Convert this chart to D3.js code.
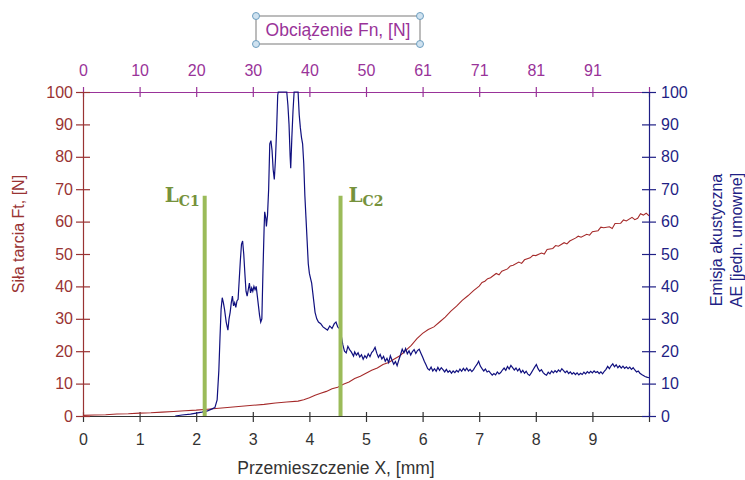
<!DOCTYPE html>
<html>
<head>
<meta charset="utf-8">
<script src="https://cdn.jsdelivr.net/npm/d3@7"></script>
<style>
body { margin: 0; background: #fff; }
svg { font-family: "Liberation Sans", Arial, sans-serif; }
</style>
</head>
<body>
<div id="chart"></div>
<script>
// tick labels
var xTicks = [0, 1, 2, 3, 4, 5, 6, 7, 8, 9];
var fnLabels = ["0", "10", "20", "30", "40", "50", "61", "71", "81", "91"];
var yTicks = [0, 10, 20, 30, 40, 50, 60, 70, 80, 90, 100];

// critical loads, X [mm]
var lcNames = ["C1", "C2"];
var lcX = [2.15, 4.55];

// friction force Ft [N] vs displacement X [mm]
var ftData = [
[0, 0.2], [0.2, 0.3], [0.4, 0.4], [0.6, 0.6], [0.8, 0.7], [1.0, 0.9], [1.2, 1.0], [1.4, 1.2],
[1.6, 1.4], [1.8, 1.6], [2.0, 1.8], [2.2, 2.1], [2.4, 2.4], [2.6, 2.7], [2.8, 3.0], [3.0, 3.3],
[3.2, 3.6], [3.4, 4.0], [3.6, 4.3], [3.8, 4.6], [3.9, 5.0], [4.0, 5.6], [4.1, 6.4], [4.2, 7.0],
[4.3, 7.6], [4.4, 8.4], [4.5, 8.9], [4.6, 9.8], [4.7, 10.5], [4.8, 11.6], [4.9, 12.3], [5.0, 13.2],
[5.1, 14.1], [5.2, 14.8], [5.3, 15.9], [5.4, 16.5], [5.5, 17.6], [5.6, 18.6], [5.7, 20.2], [5.8, 21.8],
[5.9, 23.9], [6.0, 25.5], [6.1, 26.7], [6.2, 27.5], [6.3, 29.0], [6.4, 30.5], [6.5, 32.4], [6.6, 33.9],
[6.7, 35.7], [6.8, 37.1], [6.9, 38.7], [7.0, 40.1], [7.05, 41.2], [7.1, 41.6], [7.15, 42.4], [7.2, 42.7],
[7.3, 44.0], [7.35, 43.6], [7.4, 44.7], [7.5, 45.4], [7.55, 46.3], [7.6, 46.5], [7.7, 47.5], [7.75, 47.1],
[7.8, 48.2], [7.9, 48.8], [7.95, 49.6], [8.0, 49.5], [8.1, 50.3], [8.15, 50.0], [8.2, 51.4], [8.3, 51.7],
[8.35, 52.6], [8.4, 52.4], [8.5, 53.5], [8.55, 53.1], [8.6, 54.0], [8.7, 54.9], [8.75, 55.5], [8.8, 55.2],
[8.9, 56.1], [8.95, 55.8], [9.0, 56.9], [9.1, 57.2], [9.15, 58.3], [9.2, 58.1], [9.3, 58.4], [9.35, 57.9],
[9.4, 59.4], [9.5, 59.5], [9.55, 60.5], [9.6, 60.2], [9.7, 61.3], [9.75, 60.6], [9.8, 61.0], [9.85, 62.4],
[9.9, 62.0], [9.95, 62.6], [10.0, 61.8]
];

// acoustic emission AE [arb. units] vs displacement X [mm]
var aeData = [
[1.63, 0], [1.75, 0.3], [1.9, 0.6], [2.0, 0.9], [2.1, 1.2], [2.2, 1.6], [2.28, 2.2], [2.33, 2.6],
[2.37, 5], [2.40, 14], [2.42, 24], [2.44, 33], [2.46, 36.5], [2.48, 35], [2.5, 33], [2.53, 29],
[2.56, 26.5], [2.58, 30], [2.6, 32], [2.62, 35], [2.64, 37], [2.66, 34], [2.68, 35], [2.7, 33.5],
[2.72, 35.5], [2.74, 36], [2.76, 42], [2.78, 48], [2.80, 53], [2.82, 54], [2.84, 50], [2.86, 44],
[2.88, 38.5], [2.9, 37], [2.92, 39], [2.94, 41], [2.96, 38], [2.98, 39.5], [3.0, 38.5], [3.02, 40],
[3.04, 39], [3.06, 40], [3.08, 37], [3.1, 34], [3.12, 31], [3.14, 29], [3.16, 30], [3.18, 45],
[3.2, 58], [3.21, 63], [3.23, 61], [3.24, 58.5], [3.26, 62], [3.28, 70], [3.3, 84], [3.32, 85],
[3.34, 82], [3.36, 76], [3.38, 73], [3.4, 79], [3.42, 88], [3.44, 99], [3.45, 100], [3.6, 100],
[3.62, 96], [3.64, 90], [3.66, 80], [3.67, 76.5], [3.69, 86], [3.71, 94], [3.73, 100], [3.8, 100],
[3.82, 93], [3.84, 89], [3.86, 86], [3.88, 84], [3.9, 78], [3.92, 68], [3.94, 61], [3.96, 54],
[3.98, 47], [4.0, 44], [4.02, 42.5], [4.04, 41], [4.06, 38], [4.08, 35], [4.1, 32], [4.13, 30],
[4.16, 29], [4.2, 28.5], [4.24, 27.5], [4.28, 27], [4.32, 26.5], [4.36, 27.8], [4.4, 27], [4.44, 28.5],
[4.47, 29], [4.5, 27.5], [4.53, 27], [4.56, 25], [4.59, 22], [4.62, 20], [4.65, 19.5], [4.68, 21.5],
[4.71, 20.5], [4.74, 19.8], [4.78, 18.5], [4.8, 19.8], [4.83, 18.8], [4.86, 19.5], [4.89, 18.2], [4.92, 18.9],
[4.95, 17.5], [4.98, 18.6], [5.01, 17.9], [5.04, 19.2], [5.07, 18.3], [5.1, 19.6], [5.13, 20.2], [5.16, 21.2],
[5.19, 19.4], [5.22, 18.1], [5.25, 19.0], [5.28, 17.6], [5.31, 18.4], [5.34, 16.9], [5.37, 17.8], [5.40, 16.5],
[5.43, 18.6], [5.46, 17.2], [5.49, 16.0], [5.52, 16.8], [5.55, 15.5], [5.58, 17.3], [5.61, 18.9], [5.64, 20.6],
[5.67, 19.5], [5.7, 20.8], [5.73, 19.2], [5.76, 20.1], [5.79, 18.8], [5.82, 19.9], [5.85, 20.5], [5.88, 19.3],
[5.91, 20.2], [5.94, 20.6], [5.97, 19.4], [6.0, 18.2], [6.03, 16.9], [6.06, 15.8], [6.09, 14.6], [6.12, 14.2],
[6.15, 15.1], [6.18, 13.9], [6.21, 14.6], [6.24, 13.8], [6.27, 15.0], [6.3, 14.1], [6.33, 14.9], [6.36, 14.3],
[6.39, 13.6], [6.42, 14.4], [6.45, 13.5], [6.48, 14.0], [6.51, 13.2], [6.54, 13.9], [6.57, 13.4], [6.6, 14.1],
[6.63, 13.6], [6.66, 14.5], [6.69, 13.8], [6.72, 14.7], [6.75, 14.0], [6.78, 14.8], [6.81, 13.9], [6.84, 14.4],
[6.87, 13.7], [6.9, 14.3], [6.93, 15.2], [6.96, 15.9], [6.99, 16.9], [7.02, 15.4], [7.05, 14.6], [7.08, 13.9],
[7.11, 14.5], [7.14, 13.6], [7.17, 13.9], [7.2, 13.2], [7.23, 12.6], [7.26, 13.1], [7.29, 12.7], [7.32, 13.6],
[7.35, 13.0], [7.38, 13.4], [7.41, 14.2], [7.44, 14.8], [7.47, 14.1], [7.5, 15.3], [7.53, 14.5], [7.56, 15.6],
[7.59, 14.9], [7.62, 14.2], [7.65, 14.8], [7.68, 13.9], [7.71, 14.6], [7.74, 13.4], [7.77, 14.1], [7.8, 13.2],
[7.83, 13.8], [7.86, 12.9], [7.89, 12.5], [7.92, 13.3], [7.95, 14.2], [7.98, 15.1], [8.01, 15.9], [8.04, 14.6],
[8.07, 13.8], [8.1, 14.3], [8.13, 13.4], [8.16, 12.9], [8.19, 12.6], [8.22, 13.5], [8.25, 13.0], [8.28, 13.9],
[8.31, 13.3], [8.34, 14.0], [8.37, 13.5], [8.4, 14.2], [8.43, 13.7], [8.46, 14.6], [8.49, 14.0], [8.52, 13.4],
[8.55, 13.9], [8.58, 13.1], [8.61, 13.6], [8.64, 12.9], [8.67, 13.4], [8.7, 12.8], [8.73, 13.3], [8.76, 12.7],
[8.79, 13.2], [8.82, 12.8], [8.85, 13.5], [8.88, 13.0], [8.91, 13.7], [8.94, 13.2], [8.97, 13.8], [9.0, 13.3],
[9.03, 13.9], [9.06, 13.4], [9.09, 13.7], [9.12, 13.1], [9.15, 13.6], [9.18, 13.0], [9.21, 13.8], [9.24, 14.4],
[9.27, 15.3], [9.3, 14.6], [9.33, 15.5], [9.36, 16.1], [9.39, 15.2], [9.42, 15.8], [9.45, 14.9], [9.48, 15.5],
[9.51, 14.8], [9.54, 15.4], [9.57, 14.7], [9.6, 15.2], [9.63, 14.6], [9.66, 15.1], [9.69, 14.4], [9.72, 14.9],
[9.75, 14.2], [9.78, 13.6], [9.81, 13.9], [9.84, 13.2], [9.87, 12.8], [9.9, 12.5], [9.93, 12.2], [9.96, 12.0],
[10.0, 11.8]
];

var w = 745, h = 480;
var padL = 83, padR = 649, padT = 92, padB = 416;

var red = "#993333", navy = "#1f1f85", purple = "#993399";
var green = "#9bbb59", greenText = "#76923c";

var svg = d3.select("#chart").append("svg")
	.attr("width", w)
	.attr("height", h);

var xScale = d3.scaleLinear().domain([0, 10]).range([padL, padR]);
var yLeft = d3.scaleLinear().domain([0, 100]).range([padB, padT]);
var yRight = d3.scaleLinear().domain([0, 100]).range([padB, padT]);

function styleAxis(g, color, size) {
	g.select(".domain").attr("stroke", color).attr("stroke-width", 1.2);
	g.selectAll(".tick line").attr("stroke", color).attr("stroke-width", 1.2);
	g.selectAll(".tick text").attr("fill", color).style("font-size", size + "px");
}

// bottom axis
var gx = svg.append("g")
	.attr("transform", "translate(0," + padB + ")")
	.call(d3.axisBottom(xScale).tickValues(d3.range(0, 11)).tickSize(6).tickSizeOuter(0)
		.tickFormat(function(d) { return d < 10 ? d : ""; }));
styleAxis(gx, "#333", 16);
gx.selectAll(".tick line").attr("y1", -4);
gx.selectAll(".tick text").attr("y", 18);

// top axis (normal load)
var gt = svg.append("g")
	.attr("transform", "translate(0," + padT + ")")
	.call(d3.axisTop(xScale).tickValues(d3.range(0, 11)).tickSize(5).tickSizeOuter(0)
		.tickFormat(function(d, i) { return i < fnLabels.length ? fnLabels[i] : ""; }));
styleAxis(gt, purple, 16);
gt.selectAll(".tick line").attr("y1", 5);
gt.selectAll(".tick text").attr("y", -16);

// left axis
var gl = svg.append("g")
	.attr("transform", "translate(" + padL + ",0)")
	.call(d3.axisLeft(yLeft).tickValues(yTicks).tickSize(7).tickSizeOuter(0));
styleAxis(gl, red, 16);
gl.selectAll(".tick line").attr("x1", 7);
gl.selectAll(".tick text").attr("x", -10);

// right axis
var gr = svg.append("g")
	.attr("transform", "translate(" + padR + ",0)")
	.call(d3.axisRight(yRight).tickValues(yTicks).tickSize(7).tickSizeOuter(0));
styleAxis(gr, navy, 16);
gr.selectAll(".tick line").attr("x1", -7);
gr.selectAll(".tick text").attr("x", 12);

// curves
svg.append("clipPath").attr("id", "plot")
	.append("rect").attr("x", padL).attr("y", padT - 1).attr("width", padR - padL).attr("height", padB - padT + 1);

svg.append("path")
	.datum(ftData)
	.attr("clip-path", "url(#plot)")
	.attr("fill", "none")
	.attr("stroke", "#a52a2a")
	.attr("stroke-width", 1.1)
	.attr("d", d3.line().x(function(d) { return xScale(d[0]); }).y(function(d) { return yLeft(d[1]); }));

svg.append("path")
	.datum(aeData)
	.attr("fill", "none")
	.attr("stroke", "#10107f")
	.attr("stroke-width", 1.2)
	.attr("d", d3.line().x(function(d) { return xScale(d[0]); }).y(function(d) { return yRight(d[1]); }));

// critical load markers
lcX.forEach(function(v, i) {
	svg.append("line")
		.attr("x1", xScale(v)).attr("x2", xScale(v))
		.attr("y1", yLeft(68)).attr("y2", padB)
		.attr("stroke", green).attr("stroke-width", 4);
	var t = svg.append("text")
		.attr("x", i == 0 ? xScale(v) - 40 : xScale(v) + 8)
		.attr("y", 202)
		.attr("fill", greenText)
		.attr("font-weight", "bold")
		.style("font-family", "'DejaVu Serif', 'Liberation Serif', serif")
		.style("font-size", "20px");
	t.append("tspan").text("L");
	t.append("tspan").attr("dy", 4).style("font-size", "14px").text(lcNames[i]);
});

// axis titles
svg.append("text")
	.attr("transform", "translate(24,234) rotate(-90)")
	.attr("text-anchor", "middle")
	.attr("fill", red)
	.style("font-size", "16px")
	.text("Siła tarcia Ft, [N]");

var rt = svg.append("text")
	.attr("transform", "translate(722,240) rotate(-90)")
	.attr("text-anchor", "middle")
	.attr("fill", navy)
	.style("font-size", "16px");
rt.append("tspan").attr("x", 0).attr("dy", 0).text("Emisja akustyczna");
rt.append("tspan").attr("x", 0).attr("dy", 20).text("AE [jedn. umowne]");

svg.append("text")
	.attr("x", 336).attr("y", 474)
	.attr("text-anchor", "middle")
	.attr("fill", "#333")
	.style("font-size", "17.5px")
	.text("Przemieszczenie X, [mm]");

// title box for top axis
var bx = 256, by = 16, bw = 164, bh = 28;
svg.append("rect")
	.attr("x", bx).attr("y", by).attr("width", bw).attr("height", bh)
	.attr("fill", "#fff").attr("stroke", "#999").attr("stroke-width", 1.3);
svg.append("text")
	.attr("x", bx + bw / 2).attr("y", by + 20)
	.attr("text-anchor", "middle")
	.attr("fill", purple)
	.style("font-size", "17.5px")
	.text("Obciążenie Fn, [N]");
[[bx, by], [bx + bw, by], [bx, by + bh], [bx + bw, by + bh]].forEach(function(p) {
	svg.append("circle")
		.attr("cx", p[0]).attr("cy", p[1]).attr("r", 3.5)
		.attr("fill", "#cfe2f0").attr("stroke", "#6f9fc0").attr("stroke-width", 1);
});
</script>
</body>
</html>
